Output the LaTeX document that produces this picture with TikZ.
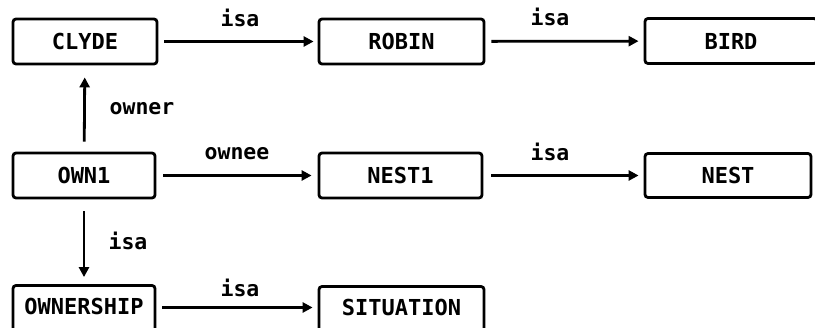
\documentclass[tikz,border=0pt]{standalone}
\usepackage{fontspec}
\newfontfamily\dmono{DejaVu Sans Mono}
\usetikzlibrary{arrows.meta}
\begin{document}
\begin{tikzpicture}[x=1pt,y=-1pt,
  box/.style={draw,line width=2.8pt,rounded corners=3pt,inner sep=0pt,
    minimum height=45pt,font=\dmono\bfseries\fontsize{22}{22}\selectfont},
  cutbox/.style={box,minimum height=60pt,text depth=18pt},
  lbl/.style={anchor=base,inner sep=0pt,font=\dmono\bfseries\fontsize{21.5}{22}\selectfont},
  arr/.style={line width=2.8pt,-{Triangle[length=10pt,width=10pt]}}]
\useasboundingbox (0,0) rectangle (815,328);
\node[box,minimum width=144pt] (clyde) at (85,41.5) {CLYDE};
\node[box,minimum width=165pt] (robin) at (401.5,41.5) {ROBIN};
\node[box,minimum width=172pt] (bird) at (731,41) {BIRD};
\node[box,minimum width=142pt] (own1) at (84,175.5) {OWN1};
\node[box,minimum width=163pt] (nest1) at (400.5,175.5) {NEST1};
\node[box,minimum width=166pt,minimum height=44pt] (nest) at (728,175.5) {NEST};
\node[cutbox,minimum width=142pt] (ownership) at (84,315.5) {OWNERSHIP};
\node[cutbox,minimum width=165pt] (situation) at (401.5,316.5) {SITUATION};
\coordinate (sitw) at (situation.west |- ownership.east);
\draw[arr,shorten <=6pt,shorten >=4pt] (clyde) -- (robin);
\draw[arr,shorten <=6pt,shorten >=5pt] (robin) -- (bird);
\draw[arr,shorten <=7pt,shorten >=6pt] (own1) -- (nest1);
\draw[arr,shorten <=8pt,shorten >=5pt] (nest1) -- (nest);
\draw[arr,shorten <=6pt,shorten >=5pt] ([yshift=8pt]ownership.east) -- ([yshift=8pt]sitw);
\draw[arr,shorten <=10pt,shorten >=12pt] (own1) -- (clyde);
\draw[arr,shorten <=12pt,shorten >=7pt] (own1) -- (ownership);
\node[lbl] (l1) at (240,27) {isa};
\node[lbl] (l2) at (550,26) {isa};
\node[lbl] (l3) at (142,115) {owner};
\node[lbl] (l4) at (237,160) {ownee};
\node[lbl] (l5) at (550,161) {isa};
\node[lbl] (l6) at (128,250) {isa};
\node[lbl] (l7) at (240,297) {isa};
\end{tikzpicture}
\end{document}
